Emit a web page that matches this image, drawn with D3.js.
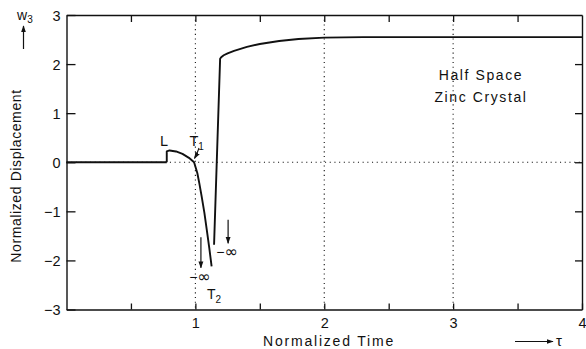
<!DOCTYPE html>
<html>
<head>
<meta charset="utf-8">
<script src="https://cdn.jsdelivr.net/npm/d3@7"></script>
<style>
  html, body { margin: 0; padding: 0; background: #fff; }
  svg { display: block; }
  text { font-family: "Liberation Sans", Arial, sans-serif; fill: #111; }
</style>
</head>
<body>
<svg id="chart" width="586" height="349"></svg>
<script>
// ---------- data ----------
const tauPre  = [0, 0.778];
const wPre    = [0, 0];
const tauBranch1 = [0.778, 0.778, 0.80, 0.85, 0.90, 0.95, 0.99, 1.015, 1.03, 1.049, 1.07, 1.088, 1.108, 1.126];
const wBranch1   = [0,     0.22,  0.24, 0.22, 0.17, 0.09, 0.0, -0.22, -0.42, -0.70, -1.03, -1.37, -1.75, -2.12];
const tauBranch2 = [1.145, 1.192, 1.20, 1.22, 1.25, 1.30, 1.40, 1.50, 1.65, 1.80, 2.00, 2.30, 3.00, 4.00];
const wBranch2   = [-1.68, 2.11,  2.14, 2.18, 2.22, 2.27, 2.35, 2.41, 2.47, 2.51, 2.54, 2.55, 2.55, 2.55];

const xDomain = [0, 4];
const yDomain = [-3, 3];
const xTicks = [0.5, 1, 1.5, 2, 2.5, 3, 3.5, 4];
const xTickLabels = [1, 2, 3, 4];
const yTicks = [-3, -2, -1, 0, 1, 2, 3];
const gridX = [1, 2, 3];
const gridY = [0];

const xTitle = "Normalized Time";
const yTitle = "Normalized Displacement";
const noteLines = ["Half Space", "Zinc Crystal"];

// ---------- layout ----------
const svg = d3.select("#chart");
const X0 = 66.5, X1 = 582, Y0 = 15, Y1 = 309.5;
const x = d3.scaleLinear().domain(xDomain).range([X0, X1]);
const y = d3.scaleLinear().domain(yDomain).range([Y1, Y0]);
const ink = "#111";

// defs: arrowhead
svg.append("defs").append("marker")
  .attr("id", "ah").attr("viewBox", "0 0 10 10").attr("refX", 9).attr("refY", 5)
  .attr("markerWidth", 7).attr("markerHeight", 7).attr("markerUnits", "userSpaceOnUse")
  .attr("orient", "auto")
  .append("path").attr("d", "M0,1.5 L10,5 L0,8.5 Z").attr("fill", ink);

// dotted grid
const grid = svg.append("g").attr("stroke", ink).attr("stroke-width", 1.1)
  .attr("stroke-dasharray", "1.1,3.6").attr("fill", "none");
grid.selectAll("line.gx").data(gridX).join("line").attr("class", "gx")
  .attr("x1", d => x(d)).attr("x2", d => x(d)).attr("y1", Y0).attr("y2", Y1);
grid.selectAll("line.gy").data(gridY).join("line").attr("class", "gy")
  .attr("x1", X0).attr("x2", X1).attr("y1", d => y(d)).attr("y2", d => y(d));

// axes (ticks inward)
const fmtX = d => xTickLabels.includes(d) ? String(d) : "";
const fmtY = d => d3.format("d")(d);

const axB = svg.append("g").attr("transform", `translate(0,${Y1})`)
  .call(d3.axisBottom(x).tickValues(xTicks).tickSizeInner(-6).tickSizeOuter(0).tickPadding(8).tickFormat(fmtX));
const axT = svg.append("g").attr("transform", `translate(0,${Y0})`)
  .call(d3.axisTop(x).tickValues(xTicks.filter(d => d < 4)).tickSizeInner(-7).tickSizeOuter(0).tickFormat(""));
const axL = svg.append("g").attr("transform", `translate(${X0},0)`)
  .call(d3.axisLeft(y).tickValues(yTicks).tickSizeInner(-9).tickSizeOuter(0).tickPadding(6).tickFormat(fmtY));
const axR = svg.append("g").attr("transform", `translate(${X1},0)`)
  .call(d3.axisRight(y).tickValues(yTicks.filter(d => d > -3 && d < 3)).tickSizeInner(-7).tickSizeOuter(0).tickFormat(""));

[axB, axT, axL, axR].forEach(a => {
  a.select(".domain").attr("stroke", ink).attr("stroke-width", 1.4);
  a.selectAll(".tick line").attr("stroke", ink).attr("stroke-width", 1.3);
  a.selectAll(".tick text").attr("fill", ink).style("font-size", "14.5px")
    .style("font-family", '"Liberation Sans", Arial, sans-serif');
});
axL.selectAll(".tick text").attr("dy", "0.36em");

// curve
const line = d3.line().x(d => x(d[0])).y(d => y(d[1])).curve(d3.curveLinear);
const curveG = svg.append("g").attr("fill", "none").attr("stroke", ink)
  .attr("stroke-width", 1.9).attr("stroke-linejoin", "round");
curveG.append("path").attr("d", line(d3.zip(tauPre, wPre)));
curveG.append("path").attr("d", line(d3.zip(tauBranch1, wBranch1)));
curveG.append("path").attr("d", line(d3.zip(tauBranch2, wBranch2)));

// annotations
const ann = svg.append("g");
ann.append("text").attr("x", 160).attr("y", 145.5).style("font-size", "14.5px").text("L");
const t1 = ann.append("text").attr("x", 189.5).attr("y", 145.5).style("font-size", "14.5px");
t1.append("tspan").text("T");
t1.append("tspan").attr("dy", 4).style("font-size", "10px").text("1");
ann.append("path").attr("d", "M199,148 Q197,154 194.5,158.5").attr("fill", "none")
  .attr("stroke", ink).attr("stroke-width", 1.1).attr("marker-end", "url(#ah)");

// -infinity arrows (data coords)
const infArrows = [
  { t: 1.043, w0: -1.53, w1: -2.15, lt: 1.035, lw: -2.34 },
  { t: 1.254, w0: -1.17, w1: -1.65, lt: 1.245, lw: -1.83 }
];
infArrows.forEach(a => {
  ann.append("line").attr("x1", x(a.t)).attr("x2", x(a.t)).attr("y1", y(a.w0)).attr("y2", y(a.w1))
    .attr("stroke", ink).attr("stroke-width", 1.2).attr("marker-end", "url(#ah)");
  const tx = ann.append("text").attr("x", x(a.lt)).attr("y", y(a.lw)).attr("dy", "0.36em")
    .attr("text-anchor", "middle").style("font-size", "14px");
  tx.append("tspan").text("−");
  tx.append("tspan").style("font-size", "16px").style("font-family", '"DejaVu Sans", sans-serif').text("∞");
});
const t2 = ann.append("text").attr("x", 207).attr("y", 299).style("font-size", "14px");
t2.append("tspan").text("T");
t2.append("tspan").attr("dy", 4).style("font-size", "10px").text("2");

// note
ann.selectAll("text.note").data(noteLines).join("text").attr("class", "note")
  .attr("x", 481).attr("y", (d, i) => 80 + i * 22).attr("text-anchor", "middle")
  .style("font-size", "14px").style("letter-spacing", "1.6px").text(d => d);

// axis titles
svg.append("text").attr("x", 329).attr("y", 346).attr("text-anchor", "middle")
  .style("font-size", "14px").style("letter-spacing", "1.8px").text(xTitle);
svg.append("text").attr("transform", "translate(21,176) rotate(-90)").attr("text-anchor", "middle")
  .style("font-size", "14px").style("letter-spacing", "0.6px").text(yTitle);

// tau arrow
svg.append("line").attr("x1", 515).attr("x2", 553).attr("y1", 341.5).attr("y2", 341.5)
  .attr("stroke", ink).attr("stroke-width", 1.2).attr("marker-end", "url(#ah)");
svg.append("text").attr("x", 556).attr("y", 346).style("font-size", "15px").text("τ");

// w3 label with up arrow
const w3 = svg.append("text").attr("x", 17).attr("y", 20).style("font-size", "14px");
w3.append("tspan").text("w");
w3.append("tspan").attr("dy", 3).style("font-size", "10px").text("3");
svg.append("line").attr("x1", 23.5).attr("x2", 23.5).attr("y1", 49).attr("y2", 26)
  .attr("stroke", ink).attr("stroke-width", 1.2).attr("marker-end", "url(#ah)");
</script>
</body>
</html>
